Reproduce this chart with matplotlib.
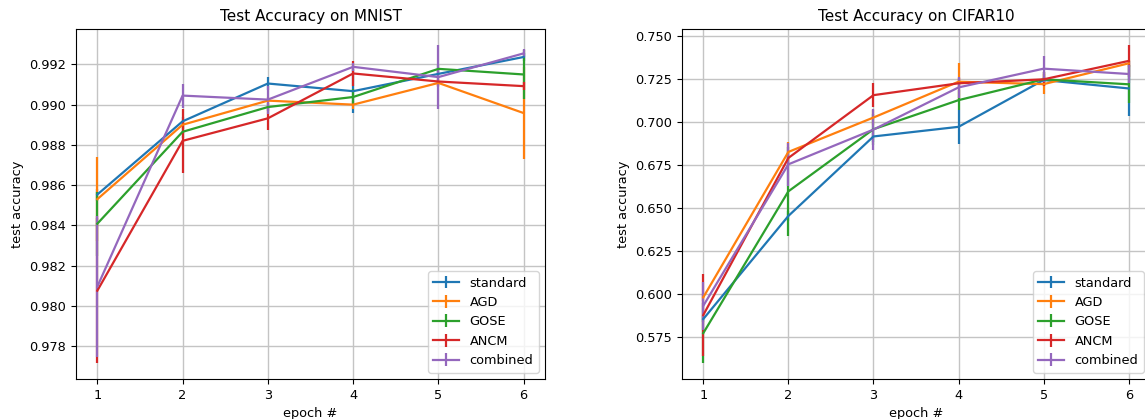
import matplotlib
matplotlib.use("Agg")
import matplotlib.pyplot as plt

epochs = [1, 2, 3, 4, 5, 6]
methods = ["standard", "AGD", "GOSE", "ANCM", "combined"]
colors = ["#1f77b4", "#ff7f0e", "#2ca02c", "#d62728", "#9467bd"]

# MNIST mean test accuracy per epoch
mnist_mean = {
    "standard": [0.98553, 0.98917, 0.99105, 0.99067, 0.99153, 0.99237],
    "AGD":      [0.98530, 0.98900, 0.99020, 0.99000, 0.99108, 0.98958],
    "GOSE":     [0.98408, 0.98865, 0.98988, 0.99038, 0.99178, 0.99150],
    "ANCM":     [0.98075, 0.98820, 0.98932, 0.99155, 0.99115, 0.99092],
    "combined": [0.98095, 0.99045, 0.99025, 0.99188, 0.99137, 0.99255],
}
mnist_err = {
    "standard": [0.0003, 0.0002, 0.0003, 0.0011, 0.0002, 0.0002],
    "AGD":      [0.0021, 0.0002, 0.0002, 0.0002, 0.0002, 0.0023],
    "GOSE":     [0.0016, 0.0003, 0.0002, 0.0004, 0.0002, 0.0012],
    "ANCM":     [0.0036, 0.0016, 0.0006, 0.0006, 0.0002, 0.0002],
    "combined": [0.0035, 0.0006, 0.0007, 0.0002, 0.0016, 0.0002],
}

# CIFAR10 mean test accuracy per epoch
cifar_mean = {
    "standard": [0.5856, 0.6455, 0.6917, 0.6973, 0.7245, 0.7196],
    "AGD":      [0.5982, 0.6827, 0.7027, 0.7235, 0.7221, 0.7342],
    "GOSE":     [0.5774, 0.6598, 0.6959, 0.7128, 0.7249, 0.7220],
    "ANCM":     [0.5879, 0.6792, 0.7157, 0.7226, 0.7249, 0.7356],
    "combined": [0.5933, 0.6755, 0.6957, 0.7202, 0.7311, 0.7280],
}
cifar_err = {
    "standard": [0.0020, 0.0030, 0.0030, 0.0097, 0.0020, 0.0160],
    "AGD":      [0.0020, 0.0060, 0.0046, 0.0110, 0.0060, 0.0020],
    "GOSE":     [0.0174, 0.0260, 0.0090, 0.0060, 0.0040, 0.0110],
    "ANCM":     [0.0240, 0.0030, 0.0070, 0.0030, 0.0040, 0.0093],
    "combined": [0.0140, 0.0125, 0.0120, 0.0060, 0.0075, 0.0050],
}

plt.rcParams["font.size"] = 9.3

W, H = 1145, 419
fig = plt.figure(figsize=(W / 100, H / 100), dpi=100)
ax1 = fig.add_axes([76 / W, 40 / H, 469 / W, 350 / H])
ax2 = fig.add_axes([682 / W, 40 / H, 468 / W, 350 / H])

for ax, means, errs, title in [
    (ax1, mnist_mean, mnist_err, "Test Accuracy on MNIST"),
    (ax2, cifar_mean, cifar_err, "Test Accuracy on CIFAR10"),
]:
    for m, c in zip(methods, colors):
        ax.errorbar(epochs, means[m], yerr=errs[m], color=c, label=m, lw=1.6)
    ax.set_title(title, fontsize=11)
    ax.set_xlabel("epoch #")
    ax.set_ylabel("test accuracy")
    ax.grid(True, color="#c4c4c4", lw=1.0)
    ax.legend(loc="lower right")
    ax.yaxis.set_major_formatter(matplotlib.ticker.FormatStrFormatter("%.3f"))

fig.savefig("out.png", dpi=100)
